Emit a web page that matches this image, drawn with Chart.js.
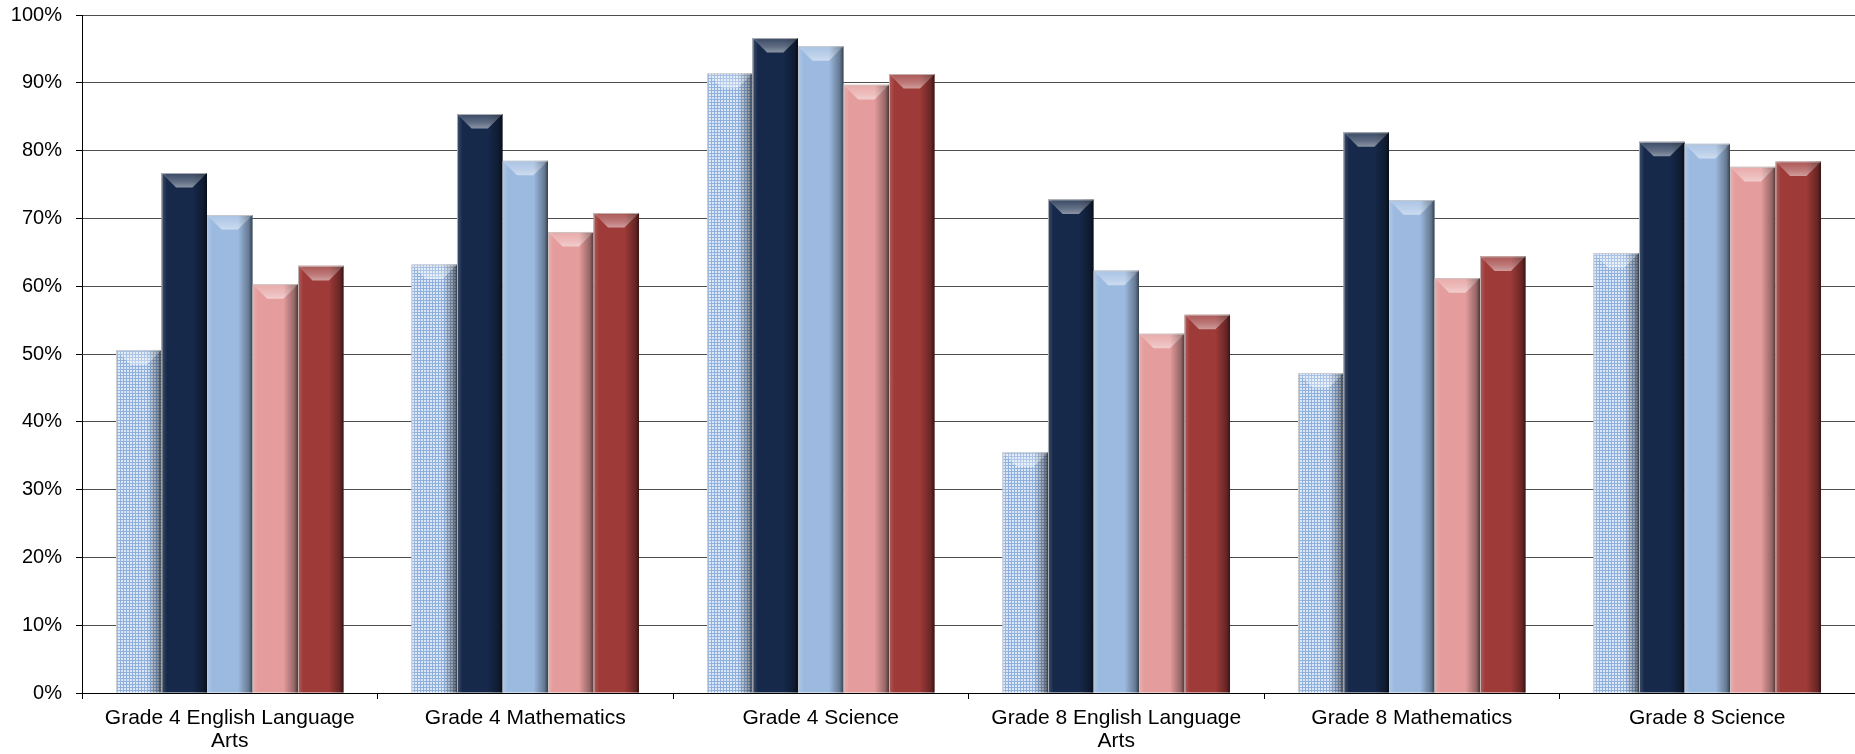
<!DOCTYPE html>
<html>
<head>
<meta charset="utf-8">
<script src="https://cdn.jsdelivr.net/npm/chart.js@4"></script>
<style>
  html, body { margin: 0; padding: 0; background: #fff; }
  #wrap { width: 1855px; height: 754px; }
</style>
</head>
<body>
<div id="wrap"><canvas id="scoreChart" width="1855" height="754"></canvas></div>
<script>
const categories = [
  ['Grade 4 English Language', 'Arts'],
  'Grade 4 Mathematics',
  'Grade 4 Science',
  ['Grade 8 English Language', 'Arts'],
  'Grade 8 Mathematics',
  'Grade 8 Science'
];
const seriesNames = ['Series 1', 'Series 2', 'Series 3', 'Series 4', 'Series 5'];
const series1 = [50.6, 63.2, 91.4, 35.5, 47.2, 64.9];
const series2 = [76.7, 85.4, 96.6, 72.8, 82.7, 81.3];
const series3 = [70.5, 78.5, 95.4, 62.3, 72.7, 81.0];
const series4 = [60.3, 68.0, 89.7, 53.0, 61.2, 77.6];
const series5 = [63.0, 70.8, 91.3, 55.8, 64.4, 78.4];
const yTicks = [0, 10, 20, 30, 40, 50, 60, 70, 80, 90, 100];

// light blue checked fill for the first series
function checkPattern() {
  const c = document.createElement('canvas');
  c.width = 3; c.height = 3;
  const p = c.getContext('2d');
  p.fillStyle = '#dce7f6';
  p.fillRect(0, 0, 3, 3);
  p.fillStyle = '#8fb0dc';
  p.fillRect(0, 0, 3, 1);
  p.fillRect(0, 0, 1, 3);
  return p.createPattern(c, 'repeat');
}

// excel-like bevel: shaded sides and a lighter top trapezoid
const bevelPlugin = {
  id: 'bevel',
  afterDatasetsDraw(chart) {
    const ctx = chart.ctx;
    chart.data.datasets.forEach((ds, i) => {
      const meta = chart.getDatasetMeta(i);
      meta.data.forEach(bar => {
        const w = bar.width;
        const left = bar.x - w / 2, right = bar.x + w / 2;
        const top = bar.y, bottom = bar.base;
        const d = Math.min(w * 0.32, bottom - top);
        ctx.save();
        let g = ctx.createLinearGradient(left, 0, right, 0);
        g.addColorStop(0, 'rgba(255,255,255,0.18)');
        g.addColorStop(0.12, 'rgba(255,255,255,0)');
        g.addColorStop(0.68, 'rgba(0,0,0,0)');
        g.addColorStop(0.92, 'rgba(0,0,0,0.35)');
        g.addColorStop(1, 'rgba(0,0,0,0.65)');
        ctx.fillStyle = g;
        ctx.fillRect(left, top, w, bottom - top);

        g = ctx.createLinearGradient(0, top, 0, top + d);
        g.addColorStop(0, 'rgba(255,255,255,0.15)');
        g.addColorStop(0.6, 'rgba(255,255,255,0.32)');
        g.addColorStop(1, 'rgba(255,255,255,0.5)');
        ctx.beginPath();
        ctx.moveTo(left, top);
        ctx.lineTo(right, top);
        ctx.lineTo(right - d, top + d);
        ctx.lineTo(left + d, top + d);
        ctx.closePath();
        ctx.fillStyle = g;
        ctx.fill();

        ctx.strokeStyle = 'rgba(200,200,200,0.8)';
        ctx.lineWidth = 1;
        ctx.beginPath();
        ctx.moveTo(left + 0.5, bottom);
        ctx.lineTo(left + 0.5, top + 0.5);
        ctx.lineTo(right - 0.5, top + 0.5);
        ctx.stroke();
        ctx.restore();
      });
    });
  }
};

const colors = [checkPattern(), '#16294a', '#9cbae0', '#e59c9c', '#9e3a38'];
const values = [series1, series2, series3, series4, series5];

const ctx = document.getElementById('scoreChart').getContext('2d');
new Chart(ctx, {
  type: 'bar',
  data: {
    labels: categories,
    datasets: seriesNames.map((name, i) => ({
      label: name,
      data: values[i],
      backgroundColor: colors[i],
      borderWidth: 0,
      barPercentage: 1,
      categoryPercentage: 0.77
    }))
  },
  plugins: [bevelPlugin],
  options: {
    responsive: false,
    animation: false,
    devicePixelRatio: 1,
    layout: { padding: { top: 15, right: 0, bottom: 0, left: 0 } },
    plugins: {
      legend: { display: false },
      tooltip: { enabled: false }
    },
    scales: {
      y: {
        min: 0,
        max: 100,
        afterBuildTicks: axis => { axis.ticks = yTicks.map(v => ({ value: v })); },
        afterFit: axis => {
          axis.width = 82;
          axis.paddingTop = 0;
          axis.paddingBottom = 0;
        },
        ticks: {
          color: '#000',
          padding: 14,
          font: { family: 'Liberation Sans', size: 20 },
          callback: v => v + '%'
        },
        grid: { color: '#4d4d4d', lineWidth: 1, tickLength: 6, tickColor: '#000' },
        border: { color: '#000', width: 1 }
      },
      x: {
        afterFit: axis => { axis.height = 61; },
        ticks: {
          color: '#000',
          padding: 7,
          autoSkip: false,
          maxRotation: 0,
          font: { family: 'Liberation Sans', size: 21, lineHeight: 1.12 }
        },
        grid: { drawOnChartArea: false, drawTicks: true, tickLength: 6, tickColor: '#000', offset: true },
        border: { color: '#000', width: 1 }
      }
    }
  }
});
</script>
</body>
</html>
